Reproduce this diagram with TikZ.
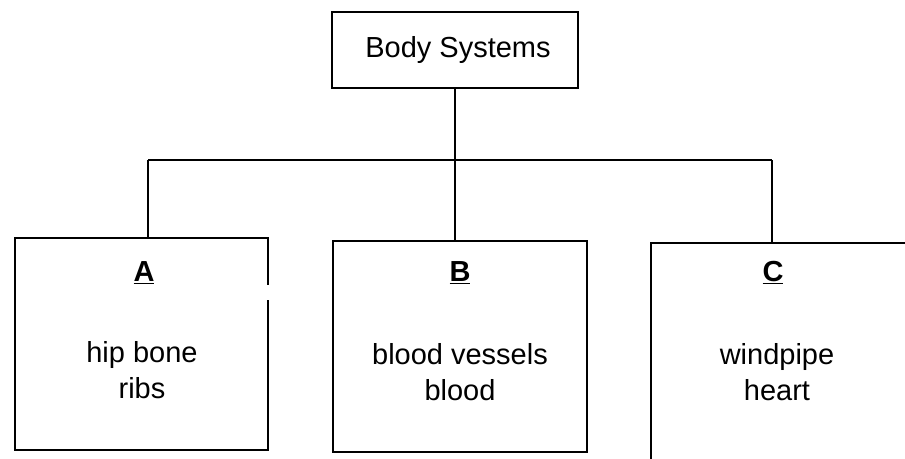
\documentclass[tikz,border=0pt]{standalone}
\usepackage{fontspec}
\setmainfont{Liberation Sans}
\begin{document}
\begin{tikzpicture}[x=1pt,y=-1pt,
  box/.style={draw=black,line width=2pt,inner sep=0pt},
  lbl/.style={font=\fontsize{29}{36}\selectfont,align=center,inner sep=0pt},
  conn/.style={draw=black,line width=2pt}]
\useasboundingbox (0,0) rectangle (905,458);
\begin{scope}
\clip (0,0) rectangle (905,458);
% top box
\node[box,minimum width=246pt,minimum height=76pt] (top) at (455,50) {};
\node[lbl] (toptext) at (458,50) {Body Systems};
% child boxes
\node[box,minimum width=253pt,minimum height=212pt] (A) at (141.5,344) {};
\node[box,minimum width=254pt,minimum height=211pt] (B) at (460,346.5) {};
\node[box,minimum width=320pt,minimum height=240pt] (C) at (811,363) {};
% gap in right side of A
\fill[white] (265,285) rectangle (272,300);
% labels
\node[lbl,font=\fontsize{29}{36}\selectfont\bfseries] (Alet) at (144,273) {\underline{A}};
\node[lbl,font=\fontsize{29}{36}\selectfont\bfseries] (Blet) at (460,273) {\underline{B}};
\node[lbl,font=\fontsize{29}{36}\selectfont\bfseries] (Clet) at (773,273) {\underline{C}};
\node[lbl] (Atxt) at (142,370) {hip bone\\ribs};
\node[lbl] (Btxt) at (460,372) {blood vessels\\blood};
\node[lbl] (Ctxt) at (777,372) {windpipe\\heart};
% connectors
\coordinate (bar) at (top.south |- 0,160);
\coordinate (ja) at (148,160);
\coordinate (jc) at (772,160);
\draw[conn] (top.south) -- (bar);
\draw[conn] (ja) -- (jc);
\draw[conn] (ja) -- (ja |- A.north);
\draw[conn] (bar) -- (bar |- B.north);
\draw[conn] (jc) -- (jc |- C.north);
\end{scope}
\end{tikzpicture}
\end{document}
